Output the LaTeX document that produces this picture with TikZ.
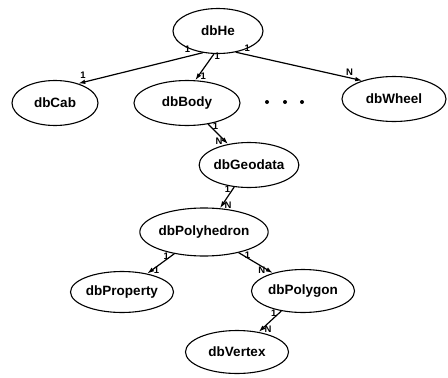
\documentclass[tikz,border=0pt]{standalone}
\usepackage{fontspec}
\setmainfont{Liberation Sans}
\usetikzlibrary{shapes.geometric,arrows.meta}

\begin{document}
\begin{tikzpicture}[x=1pt,y=-1pt,
  db/.style={ellipse,draw,line width=1.1pt,minimum width=#1,minimum height=45pt,inner sep=0pt,
    font=\bfseries\fontsize{13.5}{15}\selectfont},
  rel/.style={-{Latex[length=7pt,width=4.5pt]},line width=1.2pt},
  card/.style={font=\bfseries\fontsize{9.5}{11}\selectfont,inner sep=2pt}]
\useasboundingbox (0,0) rectangle (448,378);
\node [db=90pt] (he) at (218,31) {dbHe};
\node [db=86pt] (cab) at (55,103) {dbCab};
\node [db=106pt] (body) at (187,103) {dbBody};
\node [db=104pt] (wheel) at (394,99) {dbWheel};
\node [db=92pt] (geodata) at (249,165) {dbGeodata};
\node [db=106pt,minimum height=48pt] (polyhedron) at (204,232) {dbPolyhedron};
\node [db=103pt,minimum height=41pt] (property) at (122,292) {dbProperty};
\node [db=103pt,minimum height=43pt] (polygon) at (303,291) {dbPolygon};
\node [db=103pt,minimum height=43pt] (vertex) at (237,352) {dbVertex};
\foreach \x in {267,285,302} \fill (\x,102) circle (2pt);
\draw [rel] (he.235) -- node[card,pos=0.08,above left]{1} node[card,pos=0.92,above left]{1} (cab.40);
\draw [rel] (he.260) -- node[card,pos=0.1,right]{1} node[card,pos=0.85,right]{1} (body.70);
\draw [rel] (he.310) -- node[card,pos=0.05,above right]{1} node[card,pos=0.9,above]{N} (wheel.150);
\draw [rel] (body) -- node[card,pos=0.1,right]{1} node[card,pos=0.85,left]{N} (geodata);
\draw [rel] (geodata) -- node[card,pos=0.1,left]{1} node[card,pos=0.85,right]{N} (polyhedron);
\draw [rel] (polyhedron) -- node[card,pos=0.1,left]{1} node[card,pos=0.85,right]{1} (property);
\draw [rel] (polyhedron) -- node[card,pos=0.1,right]{1} node[card,pos=0.85,left]{N} (polygon);
\draw [rel] (polygon) -- node[card,pos=0.1,left]{1} node[card,pos=0.85,right]{N} (vertex);
\end{tikzpicture}
\end{document}
